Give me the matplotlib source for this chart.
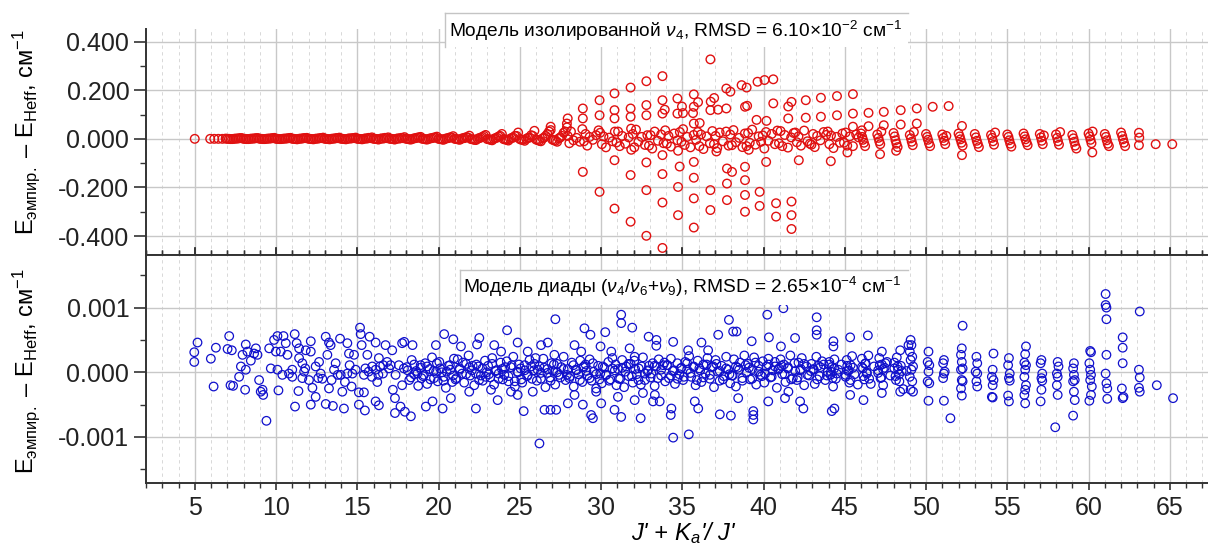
import matplotlib
matplotlib.use('Agg')
import matplotlib.pyplot as plt
from matplotlib.ticker import MultipleLocator, FormatStrFormatter
from matplotlib.patches import Rectangle
from matplotlib.lines import Line2D

plt.rcParams['font.family'] = ['Liberation Sans', 'DejaVu Sans']
plt.rcParams['mathtext.fontset'] = 'custom'
plt.rcParams['mathtext.rm'] = 'Liberation Sans'
plt.rcParams['mathtext.it'] = 'Liberation Sans:italic'
plt.rcParams['mathtext.bf'] = 'Liberation Sans:bold'

# ---- верхняя панель: модель изолированной v4, (x, dE) в см-1 ----
# почти нулевая полоса, J' = 5..27
red_band = [
    (5.00, .000), (5.95, .000), (6.20, .000), (6.45, .000), (6.70, .000), (6.90, .001),
    (7.10, .000), (7.30, -.001), (7.50, .001), (7.70, .002), (7.90, .003),
    (8.10, .000), (8.30, -.001), (8.50, .001), (8.70, .002), (8.90, .003),
    (9.10, .000), (9.30, -.001), (9.50, .001), (9.70, .002), (9.90, .004),
    (10.10, .000), (10.30, -.001), (10.50, .001), (10.70, .002), (10.90, .004),
    (11.10, .000), (11.30, -.002), (11.50, .001), (11.70, .003), (11.90, .004),
    (12.10, .000), (12.30, -.002), (12.50, .001), (12.70, .003), (12.90, .005),
    (13.10, .000), (13.30, -.002), (13.50, .001), (13.70, .003), (13.90, .005),
    (14.10, .000), (14.30, -.002), (14.50, .002), (14.70, .003), (14.90, .005),
    (15.10, .000), (15.30, -.002), (15.50, .002), (15.70, .004), (15.90, .006),
    (16.10, .000), (16.30, -.003), (16.50, .002), (16.70, .004), (16.90, .006),
    (17.10, .000), (17.30, -.003), (17.50, .002), (17.70, .004), (17.90, .007),
    (18.10, .000), (18.30, -.003), (18.50, .002), (18.70, .005), (18.90, .008),
    (19.10, .000), (19.30, -.003), (19.50, .002), (19.70, .005), (19.90, .009),
    (20.10, -.001), (20.30, -.004), (20.50, .002), (20.70, .006), (20.90, .011),
    (21.10, -.001), (21.30, -.004), (21.50, .003), (21.70, .007), (21.90, .013),
    (22.10, -.002), (22.30, -.005), (22.50, .003), (22.70, .008), (22.90, .016),
    (23.10, -.002), (23.30, -.006), (23.50, .003), (23.70, .010), (23.90, .020),
    (24.10, -.003), (24.30, -.007), (24.50, .004), (24.70, .012), (24.90, .026),
    (25.10, -.004), (25.30, -.008), (25.50, .004), (25.70, .015), (25.90, .033),
    (26.10, -.005), (26.30, -.010), (26.50, .005), (26.70, .020), (26.90, .036), (26.90, .050),
    (27.10, -.006), (27.30, -.012), (27.50, .006), (27.70, .025), (27.90, .047), (27.90, .063),
    (27.95, .084),
]

# вторая серия уровней в той же полосе
red_band_b = [
    (7.00, .000), (7.20, -.001), (7.40, .000), (7.60, .001), (7.80, .003),
    (8.00, .000), (8.20, -.001), (8.40, .000), (8.60, .001), (8.80, .003),
    (9.00, .000), (9.20, -.001), (9.40, .000), (9.60, .001), (9.80, .003),
    (10.00, .000), (10.20, -.001), (10.40, .000), (10.60, .001), (10.80, .003),
    (11.00, .000), (11.20, -.001), (11.40, .000), (11.60, .001), (11.80, .003),
    (12.00, .000), (12.20, -.001), (12.40, .000), (12.60, .001), (12.80, .003),
    (13.00, .000), (13.20, -.001), (13.40, .000), (13.60, .001), (13.80, .003),
    (14.00, .000), (14.20, -.001), (14.40, .000), (14.60, .001), (14.80, .003),
    (15.00, .000), (15.20, -.001), (15.40, .000), (15.60, .001), (15.80, .003),
    (16.00, .000), (16.20, -.001), (16.40, .000), (16.60, .001), (16.80, .003),
    (17.00, .000), (17.20, -.001), (17.40, .000), (17.60, .001), (17.80, .003),
    (18.00, .000), (18.20, -.002), (18.40, .000), (18.60, .003), (18.80, .006),
    (19.00, .000), (19.20, -.002), (19.40, .000), (19.60, .003), (19.80, .006),
    (20.00, .000), (20.20, -.002), (20.40, .000), (20.60, .003), (20.80, .006),
    (21.00, .000), (21.20, -.002), (21.40, .000), (21.60, .003), (21.80, .006),
    (22.00, -.001), (22.20, -.004), (22.40, .000), (22.60, .005), (22.80, .012),
    (23.00, -.001), (23.20, -.004), (23.40, .000), (23.60, .005), (23.80, .012),
    (24.00, -.001), (24.20, -.004), (24.40, .000), (24.60, .005), (24.80, .012),
    (25.00, -.001), (25.20, -.004), (25.40, .000), (25.60, .005), (25.80, .012),
    (26.00, -.003), (26.20, -.008), (26.40, .002), (26.60, .012), (26.80, .030),
    (27.00, -.003), (27.20, -.008), (27.40, .002), (27.60, .012), (27.80, .030),
]

# плотные группы вокруг нуля, J' = 28..65
red_clusters = [
    (27.95, .012), (28.05, -.018), (28.15, .030), (28.30, -.006), (28.50, .004), (28.70, -.012), (28.85, .040),
    (28.95, -.010), (29.05, .020), (29.15, -.028), (29.30, .008), (29.50, -.004), (29.70, .015), (29.85, .035),
    (29.95, .025), (30.05, -.022), (30.15, .010), (30.30, -.035), (30.50, .005), (30.70, -.010), (30.85, .030),
    (30.95, -.015), (31.05, .030), (31.15, -.030), (31.30, .012), (31.50, -.020), (31.70, .006), (31.85, .042),
    (31.95, .020), (32.05, -.035), (32.15, .038), (32.30, -.012), (32.50, .008), (32.70, -.025), (32.85, .015),
    (32.95, -.028), (33.05, .015), (33.15, -.040), (33.30, .030), (33.50, -.008), (33.70, .018), (33.85, -.018),
    (33.95, .035), (34.05, -.020), (34.15, .012), (34.30, -.032), (34.50, .022), (34.70, -.006), (34.85, .028),
    (34.95, -.012), (35.05, .040), (35.15, -.025), (35.30, .008), (35.50, -.035), (35.70, .016), (35.85, -.004),
    (35.95, .028), (36.05, -.030), (36.15, .018), (36.30, -.042), (36.50, .010), (36.70, -.018), (36.85, .032),
    (36.95, -.022), (37.05, .012), (37.15, -.038), (37.30, .026), (37.50, -.010), (37.70, .030), (37.85, -.028),
    (37.95, .018), (38.05, -.026), (38.15, .036), (38.30, -.014), (38.50, .004), (38.70, -.034), (38.85, .022),
    (38.95, -.030), (39.05, .024), (39.15, -.016), (39.30, .038), (39.50, -.024), (39.70, .010), (39.85, -.012),
    (39.95, .014), (40.05, -.040), (40.15, .028), (40.30, -.008), (40.50, .020), (40.70, -.022), (40.85, .034),
    (40.95, -.018), (41.05, .032), (41.15, -.030), (41.30, .016), (41.50, -.036), (41.70, .006), (41.85, .024),
    (41.95, .026), (42.05, -.014), (42.15, .010), (42.30, -.028), (42.50, .034), (42.70, -.010), (42.85, -.020),
    (42.95, -.024), (43.05, .020), (43.15, -.034), (43.30, .012), (43.50, -.006), (43.70, .028), (43.85, .016),
    (43.95, .030), (44.05, -.022), (44.15, .014), (44.30, -.038), (44.50, .008), (44.70, -.016), (44.85, .022),
    (44.95, -.016), (45.05, .026), (45.15, -.028), (45.30, .010), (45.50, -.030), (45.70, .018), (45.85, .006),
    (46.00, .022), (46.07, .008), (46.12, -.004), (46.18, -.016), (46.25, -.030), (46.05, .035),
    (47.00, .018), (47.07, .004), (47.12, -.010), (47.18, -.022), (47.25, .030),
    (48.00, .024), (48.07, .010), (48.12, -.006), (48.18, -.020), (48.25, -.034),
    (49.00, .016), (49.07, .002), (49.12, -.012), (49.18, -.026), (49.25, .028),
    (50.00, .020), (50.07, .008), (50.12, -.004), (50.18, -.018), (50.25, -.030),
    (51.00, .018), (51.07, .004), (51.12, -.008), (51.18, -.022), (51.25, .012),
    (52.00, .022), (52.07, .010), (52.12, -.002), (52.18, -.016), (52.25, -.028),
    (53.00, .020), (53.07, .006), (53.12, -.008), (53.18, -.020), (53.25, -.034),
    (54.00, .016), (54.07, .004), (54.12, -.010), (54.18, -.024), (54.25, .026),
    (55.00, .018), (55.07, .008), (55.12, -.006), (55.18, -.020), (55.25, -.032),
    (56.00, .022), (56.07, .010), (56.12, -.002), (56.18, -.014), (56.25, -.026),
    (57.00, .020), (57.07, .006), (57.12, -.008), (57.18, -.022), (57.25, .014),
    (58.00, .018), (58.07, .004), (58.12, -.010), (58.18, -.024), (58.25, .028),
    (59.00, .016), (59.07, .002), (59.12, -.012), (59.18, -.028), (59.25, -.040),
    (60.00, .022), (60.07, .010), (60.12, -.004), (60.18, -.018), (60.25, .030),
    (61.00, .020), (61.07, .008), (61.12, -.006), (61.18, -.020), (61.25, -.030),
    (62.00, .026), (62.07, .012), (62.12, -.002), (62.18, -.016), (62.25, -.030),
    (63.10, .025), (63.12, .005), (63.10, -.026),
]

# разброс больших отклонений, J' = 28..65
red_scatter = [
    (28.88, .125), (28.88, .084), (28.88, -.136),
    (29.91, .159), (29.91, .097), (29.91, -.218),
    (30.83, .187), (30.83, .118), (30.83, .084), (30.83, -.088), (30.83, -.287),
    (31.82, .211), (31.82, .125), (31.82, .091), (31.86, -.045), (31.82, -.149), (31.82, -.341),
    (32.79, .237), (32.79, .139), (32.79, .097), (32.79, -.097), (32.79, -.211), (32.79, -.399),
    (33.78, .258), (33.78, .159), (33.92, .120), (33.78, .104), (33.78, -.067), (33.78, -.145),
    (33.78, -.262), (33.78, -.449),
    (34.70, .166), (34.98, .133), (34.70, .104), (35.04, .106), (34.74, -.049), (34.84, -.114),
    (34.74, -.198), (34.74, -.314),
    (35.71, .183), (35.97, .151), (35.71, .132), (35.66, .106), (35.71, .063), (35.71, -.095),
    (35.71, -.160), (35.71, -.245), (35.71, -.365),
    (36.73, .327), (36.96, .168), (36.75, .153), (36.73, .118), (36.07, .065), (36.73, -.211), (36.73, -.293),
    (37.71, .207), (37.96, .194), (37.71, .125), (37.20, .120), (37.10, -.052), (37.75, -.122),
    (38.06, -.136), (37.75, -.184), (37.75, -.252),
    (38.65, .221), (38.96, .211), (38.99, .136), (38.86, .132), (38.86, -.115), (38.86, -.170),
    (38.86, -.231), (38.86, -.300), (39.09, -.045),
    (39.63, .235), (40.06, .242), (39.57, .078), (39.76, -.218), (39.76, -.276), (40.16, -.095), (40.18, .074),
    (40.60, .245), (40.60, .146), (40.77, -.265), (40.77, -.320),
    (41.72, .152), (41.52, .133), (41.52, .084), (41.72, -.258), (41.72, -.314), (41.72, -.371),
    (42.17, -.088), (42.60, .159), (42.60, .087),
    (43.53, .169), (43.53, .091), (44.14, -.092),
    (44.52, .176), (44.52, .097),
    (45.50, .184), (45.50, .104), (45.50, .050), (45.16, -.056),
    (46.46, .107), (46.46, .052), (47.17, -.063),
    (47.40, .111), (47.40, .056), (48.16, -.049),
    (48.44, .118), (48.44, .059),
    (49.43, .125), (49.43, .063),
    (50.41, .132), (51.39, .135),
    (52.21, .053), (52.21, -.067),
    (60.23, -.056),
    (64.13, -.022), (65.15, -.022),
]

# ---- нижняя панель: модель диады, (x, dE в единицах 1e-4 см-1) ----
blue_low = [
    (4.97, 3.1), (4.97, 1.6), (5.17, 4.6), (5.99, 2.1), (6.16, -2.2), (6.30, 3.8),
    (7.02, 3.6), (7.12, 5.6), (7.20, -2.0), (7.28, 3.4), (7.36, -2.1), (7.73, -0.7),
    (7.84, 0.9), (7.94, 2.7), (8.10, -2.7), (8.14, 4.3), (8.14, 0.4), (8.24, 3.2), (8.45, 1.8),
    (8.65, 2.9), (8.76, 3.7), (8.86, 2.7), (8.96, -1.2),
    (9.06, -3.0), (9.17, -2.7), (9.21, -3.5), (9.41, -7.5), (9.58, 3.7), (9.68, 0.6), (9.88, 5.0),
    (9.99, 3.2),
    (10.09, 5.6), (10.09, 0.4), (10.15, -2.8), (10.29, 3.2), (10.39, -0.4), (10.46, 5.6), (10.60, 4.5),
    (10.70, 2.7), (10.80, -0.2),
    (11.00, 0.4), (11.00, -0.7), (11.15, 5.9), (11.17, -5.3), (11.27, 4.5), (11.38, -2.9), (11.42, 3.7),
    (11.42, 2.2), (11.62, 1.4), (11.62, -0.9), (11.73, 0.1), (11.80, 0.6), (11.83, 3.4),
    (12.03, -1.2), (12.14, 4.8), (12.14, 3.2), (12.14, -5.0), (12.24, -2.4), (12.44, 0.9), (12.44, -3.8),
    (12.60, -0.9), (12.65, 1.6), (12.75, -0.2), (12.85, -1.0),
    (13.06, 5.5), (13.06, -4.9), (13.16, 2.7), (13.26, 4.6), (13.26, -2.5), (13.36, 4.2), (13.42, -1.2),
    (13.50, -5.2), (13.57, 0.4), (13.67, 1.4), (13.80, -0.4), (13.94, 5.2), (13.98, -0.4),
    (14.08, -3.0), (14.18, -5.6), (14.24, -1.5), (14.39, 4.5), (14.39, -0.2), (14.49, 2.9), (14.53, 1.1),
    (14.65, -2.2), (14.70, -0.2), (14.80, 2.7), (14.90, 0.4),
    (15.10, -3.1), (15.10, -5.0), (15.17, 6.9), (15.21, 5.9), (15.27, 4.2), (15.41, -0.4), (15.41, -3.1),
    (15.47, -5.9), (15.50, 0.6), (15.62, 2.7), (15.70, 0.1), (15.76, 5.5), (15.90, -0.7), (15.92, 0.9),
    (16.13, 4.6), (16.13, 0.4), (16.13, -4.5), (16.23, -1.5), (16.30, -0.4), (16.33, 2.2), (16.33, -5.1),
    (16.40, 0.9), (16.58, -0.2), (16.60, 1.1), (16.74, 4.2), (16.84, 1.6), (16.95, 0.6),
    (17.05, 1.1), (17.15, 3.4), (17.19, -2.7), (17.32, -4.0), (17.32, -6.3), (17.36, -0.4), (17.56, 1.1),
    (17.66, -5.3), (17.76, 4.5), (17.76, -2.0), (17.87, 0.6),
]

blue_mid = [
    (18.05, 0.8), (18.20, -1.2), (18.35, 1.9), (18.50, -0.3), (18.62, 0.2), (18.75, -2.1), (18.90, 1.1), (18.95, -0.9),
    (19.05, -0.6), (19.18, 1.4), (19.30, -1.8), (19.45, 0.5), (19.60, 2.3), (19.72, -0.9), (19.85, 0.1), (19.95, -1.4),
    (20.05, 1.6), (20.20, 0.0), (20.32, -0.7), (20.45, -2.4), (20.60, 1.0), (20.72, 0.4), (20.85, -1.5), (20.95, 2.1),
    (21.05, -1.1), (21.18, 2.0), (21.30, 0.6), (21.45, -0.2), (21.58, -1.6), (21.70, 1.3), (21.85, 2.6), (21.95, -0.5),
    (22.05, 0.3), (22.20, -2.0), (22.33, 1.2), (22.46, 0.9), (22.60, -0.5), (22.72, -1.3), (22.86, 1.8), (22.96, 0.0),
    (23.05, 1.0), (23.18, -0.8), (23.30, 2.2), (23.42, -1.9), (23.55, 0.3), (23.70, -0.2), (23.82, 1.5), (23.95, -1.1),
    (24.05, -0.4), (24.20, 1.7), (24.30, -1.4), (24.45, 0.8), (24.60, 2.4), (24.70, -2.2), (24.85, 0.1), (24.95, 1.2),
    (25.05, 0.6), (25.15, -1.6), (25.30, 1.1), (25.45, -0.6), (25.60, 1.9), (25.75, -1.0), (25.88, 0.3), (25.97, 2.2),
    (26.05, -1.3), (26.20, 0.9), (26.30, -0.1), (26.45, 2.1), (26.58, -2.3), (26.70, 0.5), (26.85, -0.8), (26.95, 1.4),
    (27.05, 0.2), (27.18, -1.9), (27.30, 1.3), (27.42, -0.4), (27.55, 0.8), (27.70, 2.4), (27.82, -1.2), (27.95, 0.5),
    (28.05, -0.9), (28.20, 1.5), (28.32, -2.2), (28.45, 0.4), (28.60, -0.3), (28.72, 1.8), (28.85, -1.5), (28.95, 0.9),
    (29.05, 1.2), (29.18, -0.5), (29.30, 2.0), (29.42, -1.3), (29.55, 0.1), (29.70, -2.5), (29.82, 1.0), (29.95, -0.2),
    (30.05, -1.7), (30.20, 0.7), (30.32, -0.4), (30.45, 1.6), (30.58, -1.1), (30.70, 2.2), (30.85, 0.3), (30.95, -2.0),
    (31.05, 0.5), (31.18, -1.0), (31.30, 1.9), (31.42, -2.3), (31.55, 0.9), (31.70, -0.6), (31.82, 1.3), (31.95, -1.6),
    (32.05, 1.8), (32.20, -0.3), (32.32, 0.6), (32.45, -1.9), (32.58, 2.3), (32.70, -1.2), (32.85, 0.2), (32.95, 1.0),
    (33.05, -0.8), (33.18, 1.4), (33.30, -2.1), (33.42, 0.9), (33.55, 2.0), (33.70, -0.5), (33.82, 1.1), (33.95, -1.4),
    (34.05, 1.1), (34.18, -0.9), (34.30, 2.1), (34.42, 0.2), (34.55, -1.8), (34.70, 1.4), (34.82, -0.3), (34.95, 0.7),
    (35.05, -1.2), (35.18, 1.6), (35.30, 0.4), (35.42, 2.5), (35.55, -0.7), (35.70, 0.9), (35.82, -2.0), (35.95, 1.8),
    (36.05, 0.6), (36.18, -1.5), (36.30, 1.2), (36.42, -0.2), (36.55, 2.2), (36.70, -1.0), (36.82, 0.8), (36.95, -2.3),
    (37.05, 1.9), (37.18, 0.1), (37.30, -1.3), (37.42, 1.0), (37.55, -0.6), (37.70, 2.4), (37.82, 0.4), (37.95, -1.7),
    (38.05, -0.5), (38.18, 2.0), (38.30, -2.2), (38.42, 0.7), (38.55, 1.5), (38.70, -0.9), (38.82, 2.6), (38.95, 0.0),
    (39.05, 1.3), (39.18, -1.1), (39.30, 0.5), (39.42, 2.3), (39.55, -1.9), (39.70, 1.0), (39.82, -0.4), (39.95, 1.7),
    (40.05, -1.6), (40.18, 0.9), (40.30, 2.1), (40.42, -0.8), (40.55, 0.3), (40.70, 1.6), (40.82, -2.4), (40.95, 0.6),
    (41.05, 2.0), (41.15, -0.3), (41.25, 1.2), (41.35, -1.5), (41.50, 0.8), (41.65, 2.6), (41.80, -0.9), (41.95, 0.2),
    (42.05, -1.2), (42.15, 1.5), (42.25, 0.3), (42.35, 2.2), (42.50, -2.0), (42.65, 0.9), (42.80, -0.5), (42.95, 1.3),
    (43.05, 0.5), (43.15, -1.8), (43.25, 2.4), (43.35, 1.0), (43.45, -0.6), (43.60, 1.7), (43.80, -1.2), (43.95, 0.1),
    (44.05, 1.6), (44.12, -0.4), (44.20, 0.8), (44.28, -2.2), (44.36, 2.0), (44.45, -1.0), (44.60, 0.4), (44.80, 1.2),
    (45.05, -0.7), (45.12, 1.9), (45.20, 0.2), (45.28, -1.6), (45.36, 1.1), (45.45, 2.5), (45.60, -0.3), (45.80, -1.9),
    (46.05, 2.1), (46.12, 0.6), (46.20, -1.1), (46.28, 1.4), (46.36, -0.2), (46.45, 2.6), (46.60, -1.8), (46.80, 0.9),
    (47.05, 0.3), (47.12, 2.2), (47.20, -0.9), (47.28, 1.2), (47.36, -2.0), (47.45, 0.7), (47.60, 1.6), (47.80, -0.5),
    (48.05, 1.5), (48.12, -0.6), (48.20, 2.3), (48.28, 0.4), (48.36, -1.4), (48.45, 1.0), (48.60, -2.6), (48.80, 0.2),
]

# плотное ядро около нуля
blue_core = [
    (18.10, 0.3), (18.30, -0.8), (18.50, 1.2), (18.70, -0.2), (18.90, 0.7),
    (19.10, -0.4), (19.30, 0.9), (19.50, -1.1), (19.70, 0.2), (19.90, 1.4),
    (20.10, 0.6), (20.30, -1.3), (20.50, 0.1), (20.70, 1.1), (20.90, -0.5),
    (21.10, -0.9), (21.30, 0.4), (21.50, 1.5), (21.70, -0.3), (21.90, 0.8),
    (22.10, 1.0), (22.30, -0.2), (22.50, -1.2), (22.70, 0.6), (22.90, -0.7),
    (23.10, -0.3), (23.30, 1.3), (23.50, 0.2), (23.70, -1.0), (23.90, 0.5),
    (24.10, 0.8), (24.30, -0.6), (24.50, 1.1), (24.70, -1.4), (24.90, 0.0),
    (25.10, -1.1), (25.30, 0.3), (25.50, -0.4), (25.70, 0.9), (25.90, 1.3),
    (26.10, 0.4), (26.30, -1.0), (26.50, 0.7), (26.70, -0.1), (26.90, -1.3),
    (27.10, 1.2), (27.30, 0.0), (27.50, -0.8), (27.70, 0.5), (27.90, -0.4),
    (28.10, -0.6), (28.30, 1.1), (28.50, 0.3), (28.70, -1.2), (28.90, 0.8),
    (29.10, 0.2), (29.30, -0.9), (29.50, 1.4), (29.70, -0.3), (29.90, -1.1),
    (30.10, 0.9), (30.30, -0.4), (30.50, -1.3), (30.70, 0.6), (30.90, 1.2),
    (31.10, -1.0), (31.30, 0.7), (31.50, 0.1), (31.70, 1.3), (31.90, -0.6),
    (32.10, 0.5), (32.30, -1.2), (32.50, 0.9), (32.70, -0.2), (32.90, 0.3),
    (33.10, -0.2), (33.30, 1.0), (33.50, -0.9), (33.70, 0.4), (33.90, 1.5),
    (34.10, 1.1), (34.30, -0.5), (34.50, 0.3), (34.70, -1.0), (34.90, 0.6),
    (35.10, -0.7), (35.30, 1.4), (35.50, -0.1), (35.70, 0.8), (35.90, -1.2),
    (36.10, 0.3), (36.30, -0.8), (36.50, 1.2), (36.70, -0.4), (36.90, 0.9),
    (37.10, 1.3), (37.30, 0.2), (37.50, -1.1), (37.70, 0.6), (37.90, -0.3),
    (38.10, -0.5), (38.30, 0.9), (38.50, 0.4), (38.70, -1.3), (38.90, 1.1),
    (39.10, 0.7), (39.30, -1.0), (39.50, 1.5), (39.70, 0.1), (39.90, -0.6),
    (40.10, -0.2), (40.30, 1.2), (40.50, -0.7), (40.70, 0.9), (40.90, 0.4),
    (41.10, 1.0), (41.30, -0.3), (41.50, 0.6), (41.70, -1.1), (41.90, 1.4),
    (42.10, -0.8), (42.30, 0.5), (42.50, 1.3), (42.70, -0.4), (42.90, 0.2),
    (43.10, 0.4), (43.30, -1.1), (43.50, 0.8), (43.70, 1.2), (43.90, -0.5),
    (44.05, 1.2), (44.15, 0.1), (44.25, -0.9), (44.35, 0.6), (44.50, -0.2),
    (45.05, -0.4), (45.15, 1.0), (45.25, 0.3), (45.35, -1.2), (45.50, 0.7),
    (46.05, 0.8), (46.15, -0.6), (46.25, 1.3), (46.35, 0.0), (46.50, -1.0),
    (47.05, -0.1), (47.15, 1.1), (47.25, -0.8), (47.35, 0.5), (47.50, 1.4),
    (48.05, 0.6), (48.15, -1.2), (48.25, 0.9), (48.35, -0.3), (48.50, 0.2),
]

blue_outliers = [
    (27.19, 8.2), (31.24, 8.9), (31.24, 7.6), (31.92, 6.9), (28.98, 6.8), (29.35, 5.8), (30.26, 6.2),
    (24.22, 6.5), (20.35, 5.9), (20.91, 5.1), (22.51, 5.3), (22.37, 4.3), (24.87, 4.6), (26.31, 4.2),
    (26.72, 4.6), (28.37, 4.2), (29.97, 4.0), (31.76, 3.7), (32.93, 5.5), (33.40, 4.1), (17.89, 4.7),
    (18.40, 4.2), (19.84, 4.2), (21.38, 4.0), (23.43, 4.2), (23.85, 3.2), (25.49, 3.2), (27.13, 2.7),
    (28.78, 3.2), (30.63, 3.2), (32.07, 2.4),
    (26.21, -11.0), (25.24, -6.0), (26.52, -5.8), (26.89, -5.8), (27.24, -5.8), (18.30, -6.8),
    (20.25, -5.6), (19.22, -5.3), (22.30, -5.6), (23.64, -4.3), (24.87, -3.5), (28.88, -5.0),
    (29.39, -6.6), (29.50, -7.1), (30.83, -5.8), (31.24, -6.9), (32.44, -7.1), (32.58, -3.2),
    (32.07, -4.3), (27.96, -4.8), (30.01, -4.8), (20.76, -4.0), (19.63, -4.5), (17.93, -6.1),
    (21.89, -3.0), (23.23, -2.7), (24.46, -3.0), (25.80, -3.0), (28.37, -3.5), (29.70, -3.0),
    (31.04, -3.8), (33.20, -4.5),
    (41.22, 9.9), (40.23, 8.9), (37.87, 8.1), (43.27, 8.5), (43.27, 6.5), (43.27, 5.8), (38.34, 6.3),
    (38.13, 6.3), (44.30, 4.8), (44.30, 4.0), (45.33, 5.4), (46.42, 5.7), (36.18, 4.6), (37.21, 5.8),
    (39.27, 4.8), (40.33, 5.4), (41.07, 4.0), (41.94, 5.3), (33.41, 5.0), (34.44, 4.7), (35.36, 3.4),
    (36.59, 3.4), (47.28, 3.2), (48.41, 3.4), (48.92, 4.2),
    (34.44, -10.1), (35.40, -9.6), (37.31, -6.5), (37.99, -6.7), (39.37, -6.0), (39.37, -6.6),
    (39.37, -7.3), (44.20, -6.0), (44.36, -5.6), (42.45, -5.6), (46.15, -4.3), (34.33, -5.6),
    (34.29, -6.6), (33.31, -3.5), (33.61, -4.5), (35.98, -5.6), (35.77, -4.5), (38.44, -4.0),
    (40.29, -4.5), (41.32, -4.0), (41.53, -3.0), (42.25, -4.5), (45.33, -3.5), (47.28, -3.2),
    (48.41, -3.0),
]

blue_high = [
    (49.05, 5.0), (49.10, 4.2), (49.00, 3.2), (49.15, 2.4), (49.05, 1.9), (49.20, 0.9), (49.10, 0.4),
    (49.00, -0.7), (49.15, -1.4), (49.05, -2.7), (49.20, -3.0),
    (50.15, 3.2), (50.10, 1.6), (50.20, 1.1), (50.15, 0.1), (50.10, -1.4), (50.20, -1.7), (50.15, -4.4),
    (51.10, 1.9), (51.05, 1.4), (51.15, 0.1), (51.10, -0.2), (51.05, -0.9), (51.10, -4.4), (51.50, -7.1),
    (52.25, 7.2), (52.20, 3.7), (52.15, 2.7), (52.20, 1.6), (52.25, 0.6), (52.15, 0.4), (52.20, -1.2),
    (52.25, -1.4), (52.15, -2.5), (52.20, -3.6),
    (53.10, 2.4), (53.15, 1.4), (53.05, 0.1), (53.15, -0.2), (53.10, -1.4), (53.15, -2.2),
    (54.15, 2.9), (54.10, 0.4), (54.05, -0.7), (54.15, -1.2), (54.10, -2.0), (54.05, -3.8), (54.10, -3.9),
    (55.10, 2.2), (55.05, 1.1), (55.15, -0.2), (55.10, -0.9), (55.15, -1.3), (55.05, -3.6), (55.10, -4.5),
    (56.15, 4.0), (56.10, 2.8), (56.05, 1.5), (56.15, 1.1), (56.10, 0.4), (56.05, -0.7), (56.15, -2.0),
    (56.10, -2.7), (56.05, -3.5), (56.10, -4.8),
    (57.10, 1.9), (57.05, 1.4), (57.15, -0.2), (57.10, -0.9), (57.15, -1.3), (57.10, -2.7), (57.05, -4.5),
    (58.10, 1.6), (58.15, 0.9), (58.05, -0.2), (58.10, -0.7), (58.05, -2.0), (58.10, -3.5), (57.95, -8.5),
    (59.10, 1.4), (59.05, 0.6), (59.10, -0.4), (59.15, -1.2), (59.05, -1.4), (59.10, -3.0), (59.15, -4.3),
    (59.05, -6.7),
    (60.10, 3.3), (60.15, 3.1), (60.05, 1.4), (60.10, 0.4), (60.15, -0.4), (60.10, -1.2), (60.20, -2.2),
    (60.15, -3.5), (60.05, -4.4),
    (61.05, 12.1), (61.05, 10.4), (61.10, 10.0), (61.10, 8.2), (61.10, 2.7), (61.05, -0.2), (61.10, -1.7),
    (61.15, -2.5), (61.15, -4.1),
    (62.10, 5.4), (62.10, 3.8), (62.10, 1.4), (62.05, -2.5), (62.15, -3.8), (62.10, -4.0),
    (63.15, 9.4), (63.10, 0.4), (63.15, -0.8), (63.10, -2.4), (63.15, -3.0),
    (64.20, -2.0), (65.20, -4.0),
]

top_label = 'Модель изолированной $\\nu_4$, RMSD = 6.10×10$^{-2}$ см$^{-1}$'
bottom_label = 'Модель диады ($\\nu_4$/$\\nu_6$+$\\nu_9$), RMSD = 2.65×10$^{-4}$ см$^{-1}$'
y_label = 'E$_{\\mathrm{эмпир.}}$ – E$_{\\mathrm{Heff}}$, см$^{-1}$'
x_label = "J' + K$_a$'/ J'"

red_pts = red_band + red_band_b + red_clusters + red_scatter
blue_pts = blue_low + blue_mid + blue_core + blue_outliers + blue_high
rx = [p[0] for p in red_pts]
ry = [p[1] for p in red_pts]
bx = [p[0] for p in blue_pts]
by = [p[1] * 1e-4 for p in blue_pts]

W, H = 1208, 548
fig = plt.figure(figsize=(W / 100, H / 100), dpi=100)
ax1 = fig.add_axes([146 / W, 1 - 255 / H, 1 - 146 / W, 226 / H])
ax2 = fig.add_axes([146 / W, 1 - 483.3 / H, 1 - 146 / W, 228.3 / H])

ax1.scatter(rx, ry, s=38, facecolors='none', edgecolors='#e01010', linewidths=1.0, zorder=3)
ax2.scatter(bx, by, s=38, facecolors='none', edgecolors='#1010cc', linewidths=0.9, zorder=3)

for ax in (ax1, ax2):
    ax.set_xlim(2, 67.35)
    ax.xaxis.set_major_locator(MultipleLocator(5))
    ax.xaxis.set_minor_locator(MultipleLocator(1))
    ax.grid(which='major', axis='both', color='#c8c8c8', lw=1.0, zorder=0)
    ax.grid(which='minor', axis='x', color='#d2d2d2', lw=0.6, ls=(0, (4, 4)), zorder=0)
    ax.set_axisbelow(True)
    ax.spines['right'].set_visible(False)
    for s in ('left', 'bottom', 'top'):
        ax.spines[s].set_color('#333333')
        ax.spines[s].set_linewidth(1.4)
    ax.tick_params(axis='y', which='major', direction='out', length=9, width=1.2,
                   labelsize=18, pad=3, colors='#333333', labelcolor='#222222')
    ax.tick_params(axis='y', which='minor', direction='out', length=4.5, width=1.0, colors='#333333')
    ax.set_ylabel(y_label, fontsize=17)

ax1.spines['top'].set_visible(False)
ax1.set_ylim(-0.478, 0.452)
ax1.yaxis.set_major_locator(MultipleLocator(0.2))
ax1.yaxis.set_minor_locator(MultipleLocator(0.1))
ax1.yaxis.set_major_formatter(FormatStrFormatter('%.3f'))
ax1.tick_params(axis='x', which='both', direction='in', bottom=True, top=False,
                labelbottom=False, colors='#333333')
ax1.tick_params(axis='x', which='major', length=6, width=1.2)
ax1.tick_params(axis='x', which='minor', length=3.5, width=1.0)
ax1.yaxis.set_label_coords(-0.098, 0.545)

ax2.set_ylim(-0.001716, 0.001813)
ax2.yaxis.set_major_locator(MultipleLocator(0.001))
ax2.yaxis.set_minor_locator(MultipleLocator(0.0005))
ax2.yaxis.set_major_formatter(FormatStrFormatter('%.3f'))
ax2.tick_params(axis='x', which='both', direction='out', bottom=True, top=True,
                labelsize=18, colors='#333333', labelcolor='#222222', pad=4)
ax2.tick_params(axis='x', which='major', length=5, width=1.2)
ax2.tick_params(axis='x', which='minor', length=3.5, width=1.0)
ax2.yaxis.set_label_coords(-0.098, 0.49)

fig.text(684 / W, 8 / H, x_label, fontsize=17, style='italic', ha='center', va='baseline')

# подписи моделей в белых рамках
for (x0, x1, y0, y1, tx, ty, txt) in [(445, 908, 13, 47, 449, 36.7, top_label),
                                      (460, 908, 270, 305, 463, 293, bottom_label)]:
    fig.add_artist(Rectangle((x0 / W, 1 - y1 / H), (x1 - x0) / W, (y1 - y0) / H,
                             transform=fig.transFigure, facecolor='white',
                             edgecolor='none', zorder=5))
    fig.add_artist(Line2D([x0 / W, x1 / W], [1 - y0 / H, 1 - y0 / H],
                          transform=fig.transFigure, color='#c4c4c4', lw=1, zorder=6))
    fig.add_artist(Line2D([x0 / W, x0 / W], [1 - y0 / H, 1 - y1 / H],
                          transform=fig.transFigure, color='#c4c4c4', lw=1, zorder=6))
    fig.text(tx / W, 1 - ty / H, txt, fontsize=13.8, ha='left', va='baseline', zorder=7)

fig.savefig('out.png', dpi=100)
